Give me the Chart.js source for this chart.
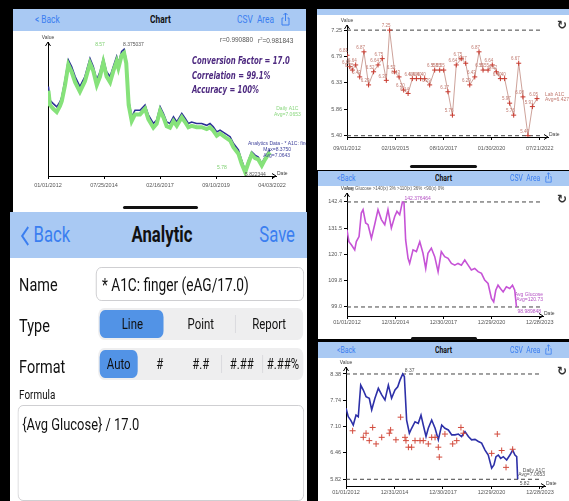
<!DOCTYPE html>
<html>
<head>
<meta charset="utf-8">
<script src="https://cdn.jsdelivr.net/npm/chart.js@4/dist/chart.umd.min.js"></script>
<style>
body{margin:0;width:569px;height:501px;background:#000;position:relative;overflow:hidden;font-family:Roboto,"Liberation Sans",sans-serif}
.abs{position:absolute;white-space:nowrap}
.panel{position:absolute;background:#fff;overflow:hidden}
.bar{position:absolute;background:#a9c9f3}
.home{position:absolute;height:3px;background:#111;border-radius:2px}
canvas{position:absolute}
.sq{position:absolute;white-space:nowrap;transform:scaleX(.76);transform-origin:left center}
.tiny{position:absolute;white-space:nowrap;font-family:"Liberation Sans",sans-serif;color:#555}
.link{color:#3a7ef0}
.seg{position:absolute;background:#eeeeef;border-radius:8px;display:flex}
.seg div{flex:1;text-align:center;position:relative;z-index:1}
.sel{position:absolute;background:#5293e6;border-radius:7px;top:2px;bottom:2px}
.sep{position:absolute;top:7px;bottom:7px;width:1px;background:#d4d4d8}
.refresh{position:absolute;font:bold 12px "DejaVu Sans",sans-serif;color:#333}
</style>
</head>
<body>

<!-- top left: chart screen -->
<div class="panel" style="left:13px;top:9px;width:293px;height:203px"></div>
<div class="bar" style="left:13px;top:9px;width:293px;height:22px"></div>
<span class="sq link" style="left:35px;top:13px;font-size:11px">&lt; Back</span>
<span class="sq" style="left:150px;top:13px;font-size:11px;font-weight:bold;color:#111">Chart</span>
<span class="sq link" style="left:237px;top:13px;font-size:11px">CSV&nbsp; Area</span>
<svg class="abs" style="left:281px;top:12px" width="9" height="14" viewBox="0 0 9 14"><path d="M2.5 6H1v7h7V6H6.5M4.5 1v8M2.5 3l2-2 2 2" fill="none" stroke="#3a7ef0" stroke-width="1"/></svg>
<canvas id="c1" width="292" height="178" style="left:14px;top:31px"></canvas>
<span class="tiny" style="left:220px;top:36px;font-size:6.5px">r=0.990880</span>
<span class="tiny" style="left:258px;top:36px;font-size:6.5px">r<sup style="font-size:4px">2</sup>=0.981843</span>
<div class="abs" style="left:192px;top:54px;font:italic bold 11px 'DejaVu Sans Condensed','DejaVu Sans',sans-serif;color:#4e2a80;line-height:14.5px;transform:scaleX(.7);transform-origin:left top">Conversion Factor = 17.0<br>Correlation = 99.1%<br>Accuracy = 100%</div>
<div class="home" style="left:123px;top:206px;width:75px"></div>

<!-- bottom left: analytic editor -->
<div class="panel" style="left:10px;top:212px;width:297px;height:289px">
  <div style="position:absolute;left:0;top:0;width:391px;height:289px;transform:scaleX(.76);transform-origin:left top">
    <div class="bar" style="left:0;top:0;width:391px;height:46px"></div>
    <svg class="abs" style="left:14px;top:13px" width="12" height="22" viewBox="0 0 12 22"><path d="M10 2L2 11l8 9" fill="none" stroke="#3a7ef0" stroke-width="2.4"/></svg>
    <span class="abs link" style="left:31px;top:10px;font-size:22px">Back</span>
    <span class="abs" style="left:150px;top:10px;width:100px;text-align:center;font-size:22px;font-weight:bold;color:#111">Analytic</span>
    <span class="abs link" style="right:16px;top:10px;font-size:22px">Save</span>

    <span class="abs" style="left:12px;top:61px;font-size:19px;color:#111">Name</span>
    <div class="abs" style="left:113px;top:55px;width:272px;height:32px;border:1px solid #c8c8cc;border-radius:7px"></div>
    <span class="abs" style="left:121px;top:62px;font-size:18px;color:#111">* A1C: finger (eAG/17.0)</span>

    <span class="abs" style="left:12px;top:102px;font-size:19px;color:#111">Type</span>
    <div class="seg" style="left:116px;top:96px;width:270px;height:32px;line-height:32px;font-size:15px;color:#111">
      <span class="sel" style="left:2px;width:84px"></span>
      <span class="sep" style="left:180px"></span>
      <div>Line</div><div>Point</div><div>Report</div>
    </div>

    <span class="abs" style="left:12px;top:143px;font-size:19px;color:#111">Format</span>
    <div class="seg" style="left:116px;top:136px;width:270px;height:32px;line-height:32px;font-size:15px;color:#111">
      <span class="sel" style="left:2px;width:50px"></span>
      <span class="sep" style="left:162px"></span>
      <span class="sep" style="left:216px"></span>
      <div>Auto</div><div>#</div><div>#.#</div><div>#.##</div><div>#.##%</div>
    </div>

    <span class="abs" style="left:12px;top:175px;font-size:13px;color:#111">Formula</span>
    <div class="abs" style="left:10px;top:193px;width:375px;height:94px;border:1px solid #c8c8cc;border-radius:7px"></div>
    <span class="abs" style="left:16px;top:202px;font-size:17px;color:#111">{Avg Glucose} / 17.0</span>
  </div>
</div>

<!-- right 1: lab A1C -->
<div class="panel" style="left:317px;top:9px;width:252px;height:161px"></div>
<div class="bar" style="left:317px;top:9px;width:252px;height:6px"></div>
<canvas id="c2" width="251" height="150" style="left:318px;top:15px"></canvas>
<span class="refresh" style="left:557px;top:18px">↻</span>
<div class="home" style="left:410px;top:165px;width:67px"></div>

<!-- right 2: avg glucose -->
<div class="panel" style="left:318px;top:171px;width:251px;height:168px"></div>
<div class="bar" style="left:318px;top:171px;width:251px;height:15px"></div>
<span class="sq link" style="left:337px;top:173px;font-size:9px">&lt;Back</span>
<span class="sq" style="left:435px;top:173px;font-size:9px;font-weight:bold;color:#111">Chart</span>
<span class="sq link" style="left:510px;top:173px;font-size:9px">CSV&nbsp; Area</span>
<svg class="abs" style="left:545px;top:172px" width="7" height="11" viewBox="0 0 9 14"><path d="M2.5 6H1v7h7V6H6.5M4.5 1v8M2.5 3l2-2 2 2" fill="none" stroke="#3a7ef0" stroke-width="1"/></svg>
<canvas id="c3" width="251" height="150" style="left:318px;top:186px"></canvas>
<span class="tiny" style="left:346px;top:186px;font-size:4.5px">Avg Glucose &gt;140(x) 3% &gt;110(x) 36% &lt;90(x) 0%</span>
<span class="refresh" style="left:557px;top:192px">↻</span>
<div class="home" style="left:411px;top:337px;width:66px"></div>

<!-- right 3: daily A1C + lab points -->
<div class="panel" style="left:318px;top:342px;width:251px;height:159px"></div>
<div class="bar" style="left:318px;top:342px;width:251px;height:16px"></div>
<span class="sq link" style="left:337px;top:345px;font-size:9px">&lt;Back</span>
<span class="sq" style="left:435px;top:345px;font-size:9px;font-weight:bold;color:#111">Chart</span>
<span class="sq link" style="left:510px;top:345px;font-size:9px">CSV&nbsp; Area</span>
<svg class="abs" style="left:545px;top:344px" width="7" height="11" viewBox="0 0 9 14"><path d="M2.5 6H1v7h7V6H6.5M4.5 1v8M2.5 3l2-2 2 2" fill="none" stroke="#3a7ef0" stroke-width="1"/></svg>
<canvas id="c4" width="251" height="143" style="left:318px;top:358px"></canvas>
<span class="refresh" style="left:557px;top:364px">↻</span>

<script>
// ---- chart 1: A1C finger (eAG/17) vs daily A1C, years since 01/01/2012
var fingerX = [0.02,0.09,0.24,0.40,0.55,0.63,0.78,0.93,1.08,1.24,1.46,1.69,1.92,2.07,2.23,2.38,2.53,2.68,2.84,2.99,
  3.14,3.22,3.37,3.48,3.58,3.69,3.83,3.98,4.21,4.44,4.59,4.82,4.97,5.13,5.28,5.43,5.58,5.74,5.89,6.12,
  6.27,6.42,6.57,6.80,7.03,7.26,7.41,7.56,7.72,7.87,8.10,8.33,8.48,8.71,8.86,9.02,9.17,9.32,9.47,9.62,
  9.78,9.93,10.08,10.16];
var fingerA1c = [7.59,7.30,7.23,7.16,7.27,7.37,7.73,8.15,8.01,7.80,7.59,7.80,8.18,8.01,7.73,7.90,8.18,7.90,7.80,8.01,
  8.22,8.08,8.33,8.375,8.15,7.30,6.95,7.09,7.09,7.20,6.99,6.81,6.88,7.16,7.02,6.84,6.81,6.95,6.84,7.02,
  6.92,6.81,6.84,6.81,6.81,6.77,6.81,6.74,6.63,6.67,6.60,6.53,6.39,6.25,6.03,5.822,6.03,6.21,6.14,6.10,
  5.96,6.10,6.21,6.25];
var dailyA1c = [7.50,7.20,7.12,7.05,7.18,7.28,7.62,8.05,7.90,7.68,7.48,7.70,8.08,7.92,7.62,7.80,8.10,7.80,7.68,7.92,
  8.12,7.98,8.25,8.30,8.08,7.20,6.86,7.00,7.00,7.12,6.90,6.72,6.80,7.08,6.94,6.75,6.72,6.86,6.76,6.94,
  6.84,6.73,6.76,6.73,6.73,6.69,6.73,6.66,6.55,6.60,6.52,6.45,6.31,6.17,5.96,5.78,5.98,6.16,6.08,6.05,
  5.92,6.05,6.16,6.20];
var c1TickX = [0, 2.5625, 5.125, 7.6875, 10.25];
var c1TickLabels = ['01/01/2012', '07/25/2014', '02/16/2017', '09/10/2019', '04/03/2022'];

// ---- chart 2: lab A1C results
var labX = [0,0.14,0.28,0.45,0.66,0.88,1.12,1.38,1.61,1.83,2.04,2.21,2.47,2.70,2.94,3.17,3.39,3.60,3.82,4.03,
  4.29,4.55,4.81,5.02,5.24,5.47,5.67,5.93,6.16,6.37,6.63,6.85,7.06,7.32,7.54,7.75,7.96,8.18,8.44,8.65,
  8.91,9.13,9.39,9.62,9.86];
var labA1c = [6.81,6.61,6.55,6.64,6.43,6.87,6.29,6.52,6.64,6.75,6.37,7.25,6.52,6.43,6.20,6.14,6.40,6.40,6.40,6.40,
  6.29,6.55,6.55,6.55,6.17,5.76,6.64,6.75,6.67,6.29,6.43,6.87,6.55,6.55,6.64,6.52,6.40,6.40,5.97,5.76,
  6.67,6.08,5.40,5.91,6.05];
var c2TickX = [0, 2.5, 5, 7.5, 10];
var c2TickLabels = ['09/01/2012', '02/19/2015', '08/10/2017', '01/30/2020', '07/21/2022'];
var c2TickY = [5.40, 5.86, 6.33, 6.79, 7.25];

// ---- chart 3: average glucose
var glucoseX = [0,0.12,0.27,0.48,0.58,0.75,0.89,1.00,1.16,1.31,1.52,1.72,1.93,2.14,2.35,2.55,2.76,2.97,3.11,3.28,
  3.45,3.55,3.65,3.80,3.90,4.11,4.32,4.53,4.73,4.90,5.04,5.25,5.46,5.67,5.87,6.08,6.29,6.50,6.71,6.91,
  7.12,7.33,7.54,7.74,7.95,8.16,8.37,8.57,8.78,8.99,9.13,9.26,9.40,9.55,9.72,9.92,10.13,10.30,10.44,10.55];
var avgGlucose = [130.9,126.0,124.7,122.6,126.0,128.1,137.8,139.2,133.7,133.0,127.4,133.0,139.2,135.1,133.0,139.2,131.6,136.4,138.5,137.1,
  142.4,142.0,126.7,119.1,117.0,122.6,121.9,126.0,121.2,114.9,121.2,123.3,119.8,113.6,121.9,119.8,119.1,117.0,116.3,117.0,
  116.3,118.4,116.3,114.3,114.9,113.6,112.9,110.1,108.7,102.5,101.1,105.9,108.0,106.6,105.2,107.3,106.6,108.0,105.9,99.0];
var c3TickX = [0, 3, 6, 9, 12];
var c3TickLabels = ['01/01/2012', '12/31/2014', '12/30/2017', '12/29/2020', '12/28/2023'];
var c3TickY = [99.0, 109.8, 120.7, 131.5, 142.4];

// ---- chart 4: daily A1C with lab points
var dailyX = [0,0.14,0.29,0.45,0.62,0.76,0.91,1.07,1.24,1.44,1.59,1.79,2.00,2.21,2.41,2.62,2.82,3.03,3.20,3.34,
  3.51,3.61,3.75,3.92,4.06,4.27,4.47,4.64,4.78,4.95,5.09,5.30,5.51,5.71,5.92,6.12,6.33,6.54,6.74,6.95,
  7.15,7.36,7.57,7.77,7.98,8.19,8.39,8.60,8.80,9.01,9.15,9.28,9.42,9.57,9.73,9.94,10.14,10.31,10.45,10.56,10.62];
var dailyA1c2 = [7.55,7.34,7.26,7.14,7.38,7.34,8.11,7.99,7.83,7.79,7.51,7.79,8.03,7.87,7.75,8.11,7.79,7.99,8.07,8.23,
  8.38,8.32,7.26,6.94,7.06,7.22,7.18,7.38,7.14,6.86,7.06,7.26,7.06,6.78,7.14,7.06,7.02,6.90,6.90,6.92,
  6.86,6.98,6.86,6.78,6.79,6.74,6.70,6.53,6.41,6.09,6.17,6.37,6.41,6.33,6.37,6.29,6.41,6.53,6.41,6.37,5.82];
var labPtX = [0.41,1.07,1.24,1.44,1.65,1.86,2.21,2.68,2.76,3.09,3.38,3.65,3.71,3.86,4.06,4.27,4.58,4.78,5.09,5.30,
  5.51,5.71,5.77,6.12,6.60,6.85,7.11,7.26,9.01,9.36,9.63,9.90,10.31];
var labPtA1c = [7.00,6.84,6.94,6.76,7.08,6.68,6.84,6.94,7.02,6.78,7.33,6.84,6.76,6.60,6.60,6.76,6.76,6.76,6.68,6.84,
  6.84,6.60,6.36,6.92,6.68,6.76,7.08,6.94,6.45,6.92,6.52,6.11,6.55];
var c4TickY = [5.82, 6.46, 7.10, 7.74, 8.38];

Chart.defaults.font.family = '"Liberation Sans", Arial, sans-serif';
Chart.defaults.color = '#444';
Chart.defaults.animation = false;

function pts(xs, ys) { return xs.map(function (x, i) { return {x: x, y: ys[i]}; }); }

// text drawn at data positions
var notes = {
  id: 'notes',
  afterDatasetsDraw: function (chart, args, opts) {
    var ctx = chart.ctx, sx = chart.scales.x, sy = chart.scales.y;
    ctx.save();
    ctx.textBaseline = 'middle';
    (opts.items || []).forEach(function (n) {
      ctx.font = n.font || '5px "Liberation Sans"';
      ctx.fillStyle = n.color || '#555';
      ctx.textAlign = n.align || 'left';
      ctx.fillText(n.text, sx.getPixelForValue(n.x) + (n.dx || 0), sy.getPixelForValue(n.y) + (n.dy || 0));
    });
    if (opts.valueLabels != null) {
      var ds = chart.data.datasets[opts.valueLabels];
      ctx.font = '4.5px "Liberation Sans"';
      ctx.fillStyle = '#c07a70';
      ctx.textAlign = 'right';
      chart.getDatasetMeta(opts.valueLabels).data.forEach(function (p, i) {
        ctx.fillText(ds.data[i].y.toFixed(2), p.x + 1, p.y - 4);
      });
    }
    ctx.restore();
  }
};

// axis arrows + "Value" / "Date"
var arrows = {
  id: 'arrows',
  afterDraw: function (chart) {
    var ctx = chart.ctx, a = chart.chartArea;
    ctx.save();
    ctx.strokeStyle = '#000';
    ctx.lineWidth = 1;
    ctx.beginPath();
    ctx.moveTo(a.left - 2.5, a.top + 4); ctx.lineTo(a.left, a.top); ctx.lineTo(a.left + 2.5, a.top + 4);
    ctx.moveTo(a.right - 4, a.bottom - 2.5); ctx.lineTo(a.right, a.bottom); ctx.lineTo(a.right - 4, a.bottom + 2.5);
    ctx.stroke();
    ctx.fillStyle = '#444';
    ctx.font = '5px "Liberation Sans"';
    ctx.textAlign = 'center';
    ctx.fillText('Value', a.left, a.top - 3);
    ctx.textAlign = 'left';
    ctx.fillText('Date', a.right + 1, a.bottom - 1);
    ctx.restore();
  }
};

function scales(o) {
  return {
    x: {
      type: 'linear', min: o.xMin, max: o.xMax,
      afterBuildTicks: function (s) { s.ticks = o.xTicks.map(function (v) { return {value: v}; }); },
      afterFit: function (s) { s.height = o.xH; },
      ticks: {autoSkip: false, maxRotation: 0, padding: o.xPad, font: {size: 5.5}, color: '#555',
        callback: function (v, i) { return o.xLabels[i]; }},
      grid: {drawOnChartArea: false, tickLength: 3, color: '#000'},
      border: {color: '#000'}
    },
    y: {
      type: 'linear', min: o.yMin, max: o.yMax,
      afterBuildTicks: function (s) { s.ticks = o.yTicks.map(function (v) { return {value: v}; }); },
      afterFit: function (s) { s.width = o.yW; },
      ticks: {display: o.yTicks.length > 0, padding: 2, font: {size: 5.5}, color: '#555',
        callback: function (v) { return v.toFixed(o.yDec); }},
      grid: {drawOnChartArea: false, tickLength: 3, color: '#000'},
      border: {color: '#000'}
    }
  };
}

function refLine(x0, x1, y) {
  return {data: [{x: x0, y: y}, {x: x1, y: y}], borderColor: '#444', borderWidth: 1,
    borderDash: [4, 3], pointRadius: 0};
}

// chart 1
new Chart(document.getElementById('c1'), {
  type: 'line',
  data: {datasets: [
    {data: pts(fingerX, dailyA1c), borderColor: '#86e27a', borderWidth: 4, pointRadius: 0, tension: 0},
    {data: pts(fingerX, fingerA1c), borderColor: '#2c2f96', borderWidth: 1.6, pointRadius: 0, tension: 0}
  ]},
  options: {
    responsive: false,
    layout: {padding: {top: 11, right: 30, left: 0, bottom: 0}},
    plugins: {legend: {display: false}, tooltip: {enabled: false},
      notes: {items: [
        {text: '8.57', x: 2.38, y: 8.47, color: '#7ccf6e', align: 'center'},
        {text: '8.375037', x: 3.43, y: 8.47},
        {text: '5.78', x: 7.73, y: 5.87, color: '#7ccf6e'},
        {text: '5.822344', x: 9.01, y: 5.72},
        {text: 'Daily A1C', x: 10.95, y: 7.12, color: '#8ad77e', align: 'center'},
        {text: 'Avg=7.0653', x: 10.95, y: 7.00, color: '#8ad77e', align: 'center'},
        {text: 'Analytics Data - * A1C: finger', x: 9.15, y: 6.38, color: '#3c3f9a'},
        {text: 'Max=8.3750', x: 9.85, y: 6.26, color: '#3c3f9a'},
        {text: 'Avg=7.0643', x: 9.85, y: 6.14, color: '#3c3f9a'}
      ]}},
    scales: scales({xMin: 0, xMax: 10.43, xTicks: c1TickX, xLabels: c1TickLabels, xH: 33, xPad: 3,
      yMin: 5.70, yMax: 8.53, yTicks: [], yW: 34, yDec: 2})
  },
  plugins: [notes, arrows]
});

// chart 2
new Chart(document.getElementById('c2'), {
  type: 'line',
  data: {datasets: [
    {data: pts(labX, labA1c), borderColor: '#c08a80', borderWidth: 0.8, pointStyle: 'cross', pointRadius: 2.5,
      pointBorderColor: '#c8392e', pointBorderWidth: 1, tension: 0},
    refLine(0, 10.17, 7.25),
    refLine(0, 10.17, 5.40)
  ]},
  options: {
    responsive: false,
    layout: {padding: {top: 10, right: 21, left: 0, bottom: 0}},
    plugins: {legend: {display: false}, tooltip: {enabled: false},
      notes: {valueLabels: 0, items: [
        {text: 'Lab A1C', x: 9.86, y: 6.05, dx: 8, dy: -4, color: '#c07a70'},
        {text: 'Avg=6.427', x: 9.86, y: 6.05, dx: 8, dy: 1, color: '#c07a70'}
      ]}},
    scales: scales({xMin: 0, xMax: 10.43, xTicks: c2TickX, xLabels: c2TickLabels, xH: 28, xPad: 5,
      yMin: 5.377, yMax: 7.34, yTicks: c2TickY, yW: 29, yDec: 2})
  },
  plugins: [notes, arrows]
});

// chart 3
new Chart(document.getElementById('c3'), {
  type: 'line',
  data: {datasets: [
    {data: pts(glucoseX, avgGlucose), borderColor: '#c653d6', borderWidth: 1.6, pointRadius: 0, tension: 0},
    refLine(0, 12.2, 142.4),
    refLine(0, 12.2, 99.0)
  ]},
  options: {
    responsive: false,
    layout: {padding: {top: 7, right: 26, left: 0, bottom: 0}},
    plugins: {legend: {display: false}, tooltip: {enabled: false},
      notes: {items: [
        {text: '142.376464', x: 3.45, y: 142.4, dx: 2, dy: -3, color: '#b452c4'},
        {text: '98.989848', x: 10.55, y: 99.0, dx: 1, dy: 5, color: '#b452c4'},
        {text: 'Avg Glucose', x: 12.2, y: 104.2, color: '#b452c4', align: 'right'},
        {text: 'Avg=120.73', x: 12.2, y: 102.2, color: '#b452c4', align: 'right'}
      ]}},
    scales: scales({xMin: 0, xMax: 12.2, xTicks: c3TickX, xLabels: c3TickLabels, xH: 20, xPad: 0,
      yMin: 95.27, yMax: 146.1, yTicks: c3TickY, yW: 29, yDec: 1})
  },
  plugins: [notes, arrows]
});

// chart 4
new Chart(document.getElementById('c4'), {
  type: 'line',
  data: {datasets: [
    {data: pts(labPtX, labPtA1c), showLine: false, pointStyle: 'cross', pointRadius: 3,
      pointBorderColor: '#d24a3c', pointBorderWidth: 1},
    {data: pts(dailyX, dailyA1c2), borderColor: '#2d30a8', borderWidth: 1.6, pointRadius: 0, tension: 0},
    refLine(0, 12.1, 8.38),
    refLine(0, 12.1, 5.82)
  ]},
  options: {
    responsive: false,
    layout: {padding: {top: 9, right: 24, left: 0, bottom: 0}},
    plugins: {legend: {display: false}, tooltip: {enabled: false},
      notes: {items: [
        {text: '8.37', x: 3.51, y: 8.38, dx: 2, dy: -3},
        {text: '5.82', x: 10.62, y: 5.82, dx: 2, dy: 4},
        {text: 'Daily A1C', x: 12.31, y: 6.02, align: 'right'},
        {text: 'Avg=7.0653', x: 12.31, y: 5.94, align: 'right'}
      ]}},
    scales: scales({xMin: 0, xMax: 12.31, xTicks: c3TickX, xLabels: c3TickLabels, xH: 15, xPad: 0,
      yMin: 5.657, yMax: 8.55, yTicks: c4TickY, yW: 28, yDec: 2})
  },
  plugins: [notes, arrows]
});
</script>
</body>
</html>
